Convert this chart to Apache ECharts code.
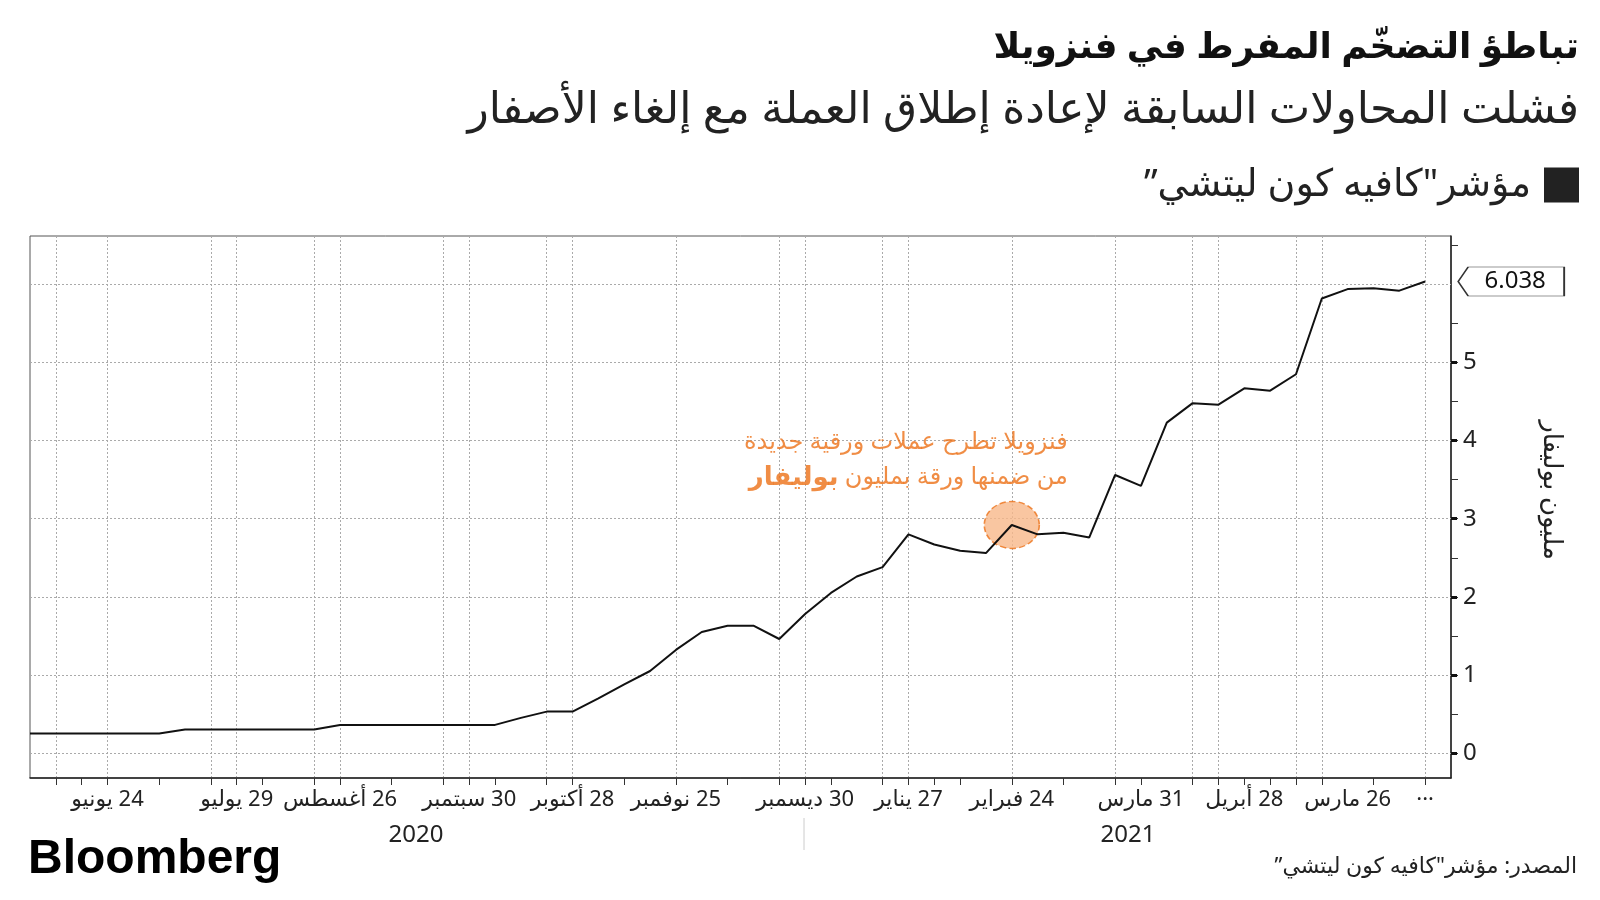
<!DOCTYPE html>
<html>
<head>
<meta charset="utf-8">
<style>
  body { margin: 0; background: #fff; }
  #chart { width: 1600px; height: 900px; }
</style>
</head>
<body>
<div id="chart" dir="rtl"></div>
<script src="https://cdn.jsdelivr.net/npm/echarts@6/dist/echarts.min.js"></script>
<script>
// weekly readings of the cafe con leche index (million bolivars)
var weeks = [
    '2020-06-03','2020-06-10','2020-06-17','2020-06-24','2020-07-01','2020-07-08','2020-07-15','2020-07-22',
    '2020-07-29','2020-08-05','2020-08-12','2020-08-19','2020-08-26','2020-09-02','2020-09-09','2020-09-16',
    '2020-09-23','2020-09-30','2020-10-07','2020-10-14','2020-10-21','2020-10-28','2020-11-04','2020-11-11',
    '2020-11-18','2020-11-25','2020-12-02','2020-12-09','2020-12-16','2020-12-23','2020-12-30','2021-01-06',
    '2021-01-13','2021-01-20','2021-01-27','2021-02-03','2021-02-10','2021-02-17','2021-02-24','2021-03-03',
    '2021-03-10','2021-03-17','2021-03-24','2021-03-31','2021-04-07','2021-04-14','2021-04-21','2021-04-28',
    '2021-05-05','2021-05-12','2021-05-19','2021-05-26','2021-06-02','2021-06-09','2021-06-16','2021-06-23'
];
var indexValues = [
    0.25, 0.25, 0.25, 0.25, 0.25, 0.25, 0.30, 0.30, 0.30, 0.30, 0.30, 0.30,
    0.36, 0.36, 0.36, 0.36, 0.36, 0.36, 0.36, 0.45, 0.53, 0.53, 0.70, 0.88,
    1.05, 1.32, 1.55, 1.63, 1.63, 1.46, 1.78, 2.05, 2.26, 2.38, 2.80, 2.67,
    2.59, 2.56, 2.92, 2.80, 2.82, 2.76, 3.56, 3.42, 4.23, 4.48, 4.46, 4.67,
    4.64, 4.85, 5.82, 5.94, 5.95, 5.92, 6.038
];
var labelDates = ['2020-06-24','2020-07-29','2020-08-26','2020-09-30','2020-10-28','2020-11-25',
    '2020-12-30','2021-01-27','2021-02-24','2021-03-31','2021-04-28','2021-05-26','2021-06-16'];
var labelTexts = ['24 يونيو','29 يوليو','26 أغسطس','30 سبتمبر','28 أكتوبر','25 نوفمبر',
    '30 ديسمبر','27 يناير','24 فبراير','31 مارس','28 أبريل','26 مارس','···'];
var yLabels = [0, 1, 2, 3, 4, 5];
var yTicks = [0, 0.5, 1, 1.5, 2, 2.5, 3, 3.5, 4, 4.5, 5, 5.5, 6.5];
var yGrid = [0, 1, 2, 3, 4, 5, 6];
var annotDate = '2021-02-24';
var seriesName = 'مؤشر"كافيه كون ليتشي”';

// which weeks get a tick / a vertical gridline
var tickIdx = [1,2,3,5,7,8,9,11,12,14,16,17,18,20,21,23,25,27,29,30,31,33,34,35,36,38,40,42,43,45,46,47,48,49,50,52,54];
var gridIdx = [1,3,7,8,11,12,16,17,20,21,25,29,30,33,34,38,42,45,46,49,50,54];

var FONT = "'Noto Sans', 'DejaVu Sans', sans-serif";
var ORANGE = '#ec7016';

var annotIdx = weeks.indexOf(annotDate);
var highlight = indexValues.map(function (v, i) { return i === annotIdx ? v : '-'; });

var myChart = echarts.init(document.getElementById('chart'));

var option = {
    backgroundColor: '#fff',
    animation: false,
    textStyle: { fontFamily: FONT },
    title: [
        { text: 'تباطؤ التضخّم المفرط في فنزويلا', right: 16, top: 25,
          textStyle: { fontSize: 36, fontWeight: 'bold', color: '#111', fontFamily: FONT } },
        { text: 'فشلت المحاولات السابقة لإعادة إطلاق العملة مع إلغاء الأصفار', right: 16, top: 83,
          textStyle: { fontSize: 44, fontWeight: 'normal', color: '#222', fontFamily: FONT } },
        { text: 'المصدر: مؤشر"كافيه كون ليتشي”', right: 18, top: 851,
          textStyle: { fontSize: 22, fontWeight: 'normal', color: '#222', fontFamily: FONT } }
    ],
    legend: {
        data: [seriesName],
        right: 16, top: 161,
        icon: 'rect', itemWidth: 35, itemHeight: 35, itemGap: 10,
        align: 'right',
        textStyle: { fontSize: 38, color: '#222', fontFamily: FONT, padding: [0, 8, 0, 0] }
    },
    grid: {
        left: 30, right: 149, top: 236, bottom: 122,
        show: true, borderColor: '#555', borderWidth: 1
    },
    xAxis: {
        type: 'category',
        data: weeks,
        boundaryGap: false,
        axisLine: { onZero: false, lineStyle: { color: '#222', width: 1.5 } },
        axisTick: {
            length: 7, lineStyle: { color: '#333' },
            interval: function (i) { return tickIdx.indexOf(i) >= 0; }
        },
        axisLabel: {
            margin: 11, fontSize: 22, color: '#222', fontFamily: FONT,
            interval: function (i, v) { return labelDates.indexOf(v) >= 0; },
            formatter: function (v) { return labelTexts[labelDates.indexOf(v)]; }
        },
        splitLine: {
            show: true,
            lineStyle: { color: '#aaa', type: [2, 2], width: 1 },
            interval: function (i) { return gridIdx.indexOf(i) >= 0; }
        }
    },
    yAxis: [{
        type: 'value',
        position: 'right',
        min: -0.32, max: 6.62,
        axisLine: { show: true, lineStyle: { color: '#222', width: 1.5 } },
        axisTick: { show: true, length: 7, customValues: yTicks, lineStyle: { color: '#333' } },
        axisLabel: { customValues: yLabels, margin: 12, fontSize: 24, color: '#222', fontFamily: FONT },
        splitLine: { show: false }
    }, {
        type: 'value',
        position: 'right',
        min: -0.32, max: 6.62,
        axisLine: { show: false },
        axisTick: { show: true, length: 6, customValues: yLabels, lineStyle: { color: '#111', width: 3 } },
        axisLabel: { show: false },
        splitLine: { show: false }
    }],
    series: [{
        name: seriesName,
        type: 'line',
        data: indexValues,
        symbol: 'none',
        z: 3,
        color: '#222',
        lineStyle: { color: '#111', width: 2 },
        markLine: {
            silent: true, symbol: 'none', z: 1,
            label: { show: false },
            lineStyle: { color: '#aaa', type: [2, 2], width: 1 },
            data: yGrid.map(function (v) { return { yAxis: v }; })
        },
        markPoint: {
            silent: true,
            symbol: 'path://M0,14.5L10,0L106,0L106,29L10,29Z',
            symbolSize: [106, 29],
            symbolOffset: [86, 0],
            itemStyle: { color: '#fff', borderColor: '#333', borderWidth: 1 },
            label: {
                show: true, position: 'inside', offset: [4, 0],
                fontSize: 24, color: '#111', fontFamily: FONT,
                formatter: function (p) { return p.value; }
            },
            data: [{ type: 'max' }]
        }
    }, {
        name: 'highlight',
        type: 'scatter',
        data: highlight,
        z: 2,
        symbol: 'circle',
        symbolSize: [55, 47],
        itemStyle: { color: '#f8b88a', borderColor: ORANGE, borderType: 'dashed', borderWidth: 1.5 },
        label: {
            show: true, position: 'inside', align: 'right', verticalAlign: 'middle',
            offset: [56, -65],
            formatter: '{a|فنزويلا تطرح عملات ورقية جديدة}\n{c|بوليفار}{b|من ضمنها ورقة بمليون }',
            rich: {
                a: { fontSize: 24, color: ORANGE, lineHeight: 35, fontFamily: FONT },
                b: { fontSize: 24, color: ORANGE, lineHeight: 35, fontFamily: FONT },
                c: { fontSize: 26, color: ORANGE, lineHeight: 35, fontWeight: 'bold', fontFamily: FONT }
            }
        }
    }],
    graphic: [
        { type: 'text', x: 1551, y: 490, rotation: -Math.PI / 2,
          style: { text: 'مليون بوليفار', fill: '#222', font: '26px ' + FONT,
                   align: 'center', verticalAlign: 'middle', textAlign: 'center', textVerticalAlign: 'middle' } },
        { type: 'text', x: 416, y: 835,
          style: { text: '2020', fill: '#222', font: '24px ' + FONT,
                   align: 'center', verticalAlign: 'middle', textAlign: 'center', textVerticalAlign: 'middle' } },
        { type: 'text', x: 1128, y: 835,
          style: { text: '2021', fill: '#222', font: '24px ' + FONT,
                   align: 'center', verticalAlign: 'middle', textAlign: 'center', textVerticalAlign: 'middle' } },
        { type: 'line', shape: { x1: 804, y1: 818, x2: 804, y2: 850 },
          style: { stroke: '#ccc', lineWidth: 1 } },
        { type: 'text', x: 28, y: 860,
          style: { text: 'Bloomberg', fill: '#000', font: 'bold 48px "Liberation Sans", Arial, sans-serif',
                   align: 'left', verticalAlign: 'middle', textAlign: 'left', textVerticalAlign: 'middle' } }
    ]
};

myChart.setOption(option);
</script>
</body>
</html>
